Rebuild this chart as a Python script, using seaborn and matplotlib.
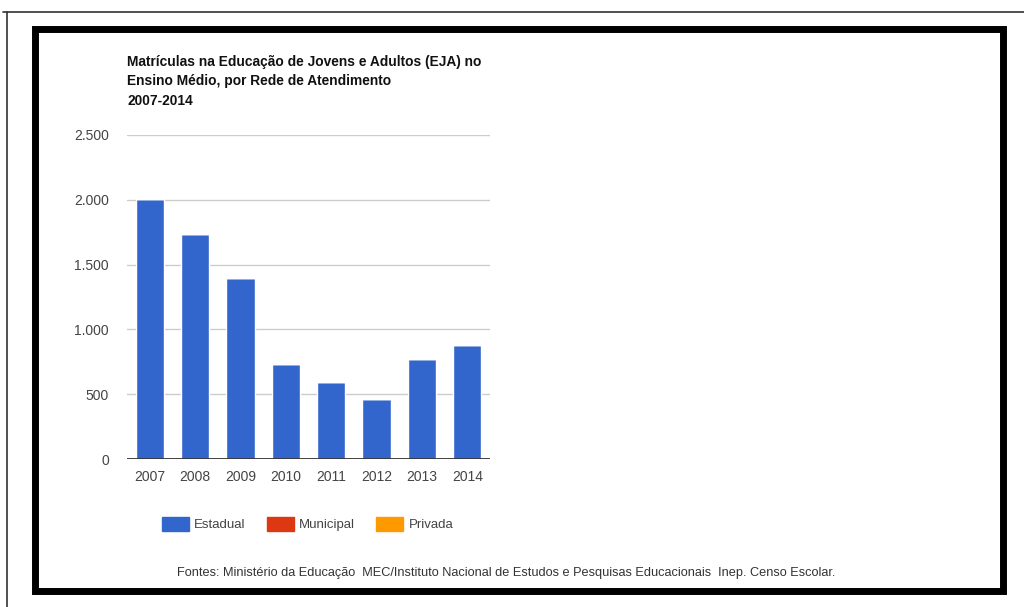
import matplotlib
matplotlib.use("Agg")
import matplotlib.pyplot as plt
from matplotlib.lines import Line2D
from matplotlib.patches import Patch, Rectangle
from matplotlib.ticker import FuncFormatter
import pandas as pd
import seaborn as sns

# Data
YEARS = ["2007", "2008", "2009", "2010", "2011", "2012", "2013", "2014"]
ESTADUAL = [2005, 1733, 1400, 732, 596, 467, 775, 878]
MUNICIPAL = [0, 0, 0, 0, 0, 0, 0, 0]
PRIVADA = [0, 0, 0, 0, 0, 0, 0, 0]
SERIES = ["Estadual", "Municipal", "Privada"]
COLORS = ["#3366CC", "#DC3912", "#FF9900"]
YTICKS = [0, 500, 1000, 1500, 2000, 2500]

TITLE = ("Matrículas na Educação de Jovens e Adultos (EJA) no\n"
         "Ensino Médio, por Rede de Atendimento\n2007-2014")
SOURCE = ("Fontes: Ministério da Educação  MEC/Instituto Nacional de Estudos "
          "e Pesquisas Educacionais  Inep. Censo Escolar.")

sns.set_theme(style="white")
plt.rcParams['font.family'] = ["Liberation Sans Narrow", "Liberation Sans",
                               "DejaVu Sans"]

W, H = 1024, 607


def px(x, y):
    """Pixel position (from top-left) to figure fraction."""
    return x / W, 1 - y / H


def main():
    df = pd.DataFrame({"year": YEARS, "Estadual": ESTADUAL,
                       "Municipal": MUNICIPAL, "Privada": PRIVADA})
    fig = plt.figure(figsize=(W / 100, H / 100), dpi=100)
    fig.patch.set_facecolor("white")
    left, top = px(127, 134.7)
    right, bottom = px(490, 459.3)
    ax = fig.add_axes([left, bottom, right - left, top - bottom])

    # Stacked bars (Municipal and Privada are zero)
    sns.barplot(data=df, x="year", y="Estadual", color=COLORS[0],
                saturation=1, width=0.62, ax=ax, zorder=3)
    ax.bar(range(len(YEARS)), df["Municipal"], bottom=df["Estadual"],
           width=0.62, color=COLORS[1], zorder=3)
    ax.bar(range(len(YEARS)), df["Privada"],
           bottom=df["Estadual"] + df["Municipal"], width=0.62,
           color=COLORS[2], zorder=3)

    # Axes aesthetics
    ax.set_ylim(0, 2500)
    ax.set_xlim(-0.5, len(YEARS) - 0.5)
    ax.set_yticks(YTICKS)
    ax.yaxis.set_major_formatter(
        FuncFormatter(lambda v, _: f"{int(v):,}".replace(",", ".")))
    for yv in YTICKS[1:]:
        ax.axhline(yv, color="#cccccc", lw=1, zorder=1)
    ax.axhline(0, color="#333333", lw=1.3, zorder=4)
    for s in ax.spines.values():
        s.set_visible(False)
    ax.tick_params(length=0, labelsize=10, colors="#444444")
    ax.tick_params(axis="y", pad=13)
    ax.tick_params(axis="x", pad=8)
    ax.set(xlabel="", ylabel="")

    # Title
    tx, ty = px(127, 55)
    fig.text(tx, ty, TITLE, ha="left", va="top", fontsize=9.9,
             fontweight="bold", color="#111111", linespacing=1.5)

    # Legend
    handles = [Patch(facecolor=c, edgecolor=c) for c in COLORS]
    lx, ly = px(150, 505)
    fig.legend(handles, SERIES, loc="upper left", bbox_to_anchor=(lx, ly),
               ncol=3, frameon=False, fontsize=9.5, handlelength=2.05,
               handleheight=1.25, handletextpad=0.4, columnspacing=1.6,
               labelcolor="#444444")

    # Source note
    sx, sy = px(506, 573)
    fig.text(sx, sy, SOURCE, ha="center", va="center", fontsize=9.2,
             color="#333333")

    # Frames
    fx, fy = px(35, 590.5)
    fig.add_artist(Rectangle((fx, fy), 968 / W, 562 / H, fill=False,
                             edgecolor="black", lw=5, transform=fig.transFigure))
    fig.add_artist(Line2D([3 / W, 1], [1 - 12 / H] * 2, color="#333333",
                          lw=1.2, transform=fig.transFigure))
    fig.add_artist(Line2D([6.5 / W] * 2, [1 - 12 / H, 0], color="#333333",
                          lw=1.2, transform=fig.transFigure))

    fig.savefig("out.png", dpi=100)
    plt.close(fig)


if __name__ == '__main__':
    main()
